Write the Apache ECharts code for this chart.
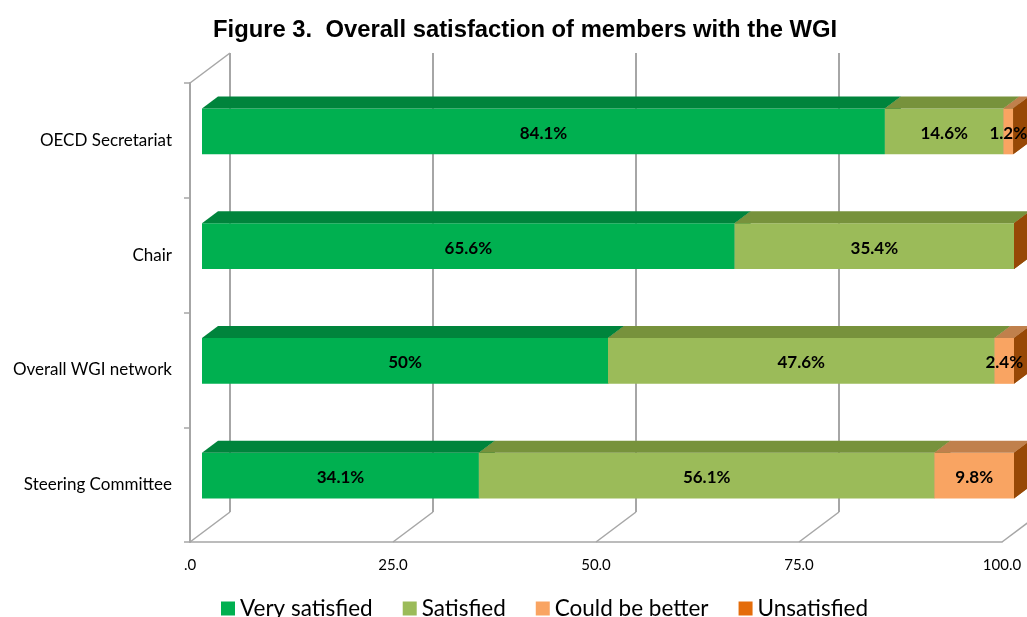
<!DOCTYPE html>
<html>
<head>
<meta charset="utf-8">
<script src="https://cdn.jsdelivr.net/npm/echarts@6/dist/echarts.min.js"></script>
<style>html,body{margin:0;padding:0;background:#fff}#c{width:1027px;height:617px}</style>
</head>
<body>
<div id="c"></div>
<script>
// ---- data ----
const categories = ['OECD Secretariat', 'Chair', 'Overall WGI network', 'Steering Committee'];
const seriesNames = ['Very satisfied', 'Satisfied', 'Could be better', 'Unsatisfied'];
const verySatisfied = [84.1, 65.6, 50, 34.1];
const satisfied = [14.6, 35.4, 47.6, 56.1];
const couldBeBetter = [1.2, 0, 2.4, 9.8];
const unsatisfied = [0, 0, 0, 0];
const xTicks = [0, 25, 50, 75, 100];

// ---- styles ----
const frontColors = ['#00B050', '#9BBB59', '#F9A462', '#E46C0A'];
const topColors = ['#00843C', '#77923C', '#C0804C', '#B0560A'];
const sideColors = ['#007A36', '#6E8A36', '#B06A30', '#974806'];
const DX = 40, DY = -30;
const gridCol = '#A6A6A6';
const AXIS_MAX = 100;

const valueSets = [verySatisfied, satisfied, couldBeBetter, unsatisfied];
const cum = categories.map(() => 0);
const seriesData = valueSets.map(vals => vals.map((v, i) => {
  const s = cum[i]; cum[i] += v;
  return [s, s + v, i, v];
}));

function renderBar(si) {
  return function (params, api) {
    const s = Math.min(api.value(0), AXIS_MAX), e = Math.min(api.value(1), AXIS_MAX);
    const c = api.value(2), v = api.value(3);
    const p0 = api.coord([s, c]);
    const p1 = api.coord([e, c]);
    const bandH = api.size([0, 1])[1];
    const h = bandH * 0.4;
    const fx = 0.3 * DX, fy = 0.3 * DY, dx = 0.4 * DX, dy = 0.4 * DY;
    const x0 = p0[0] + fx, x1 = p1[0] + fx;
    const yT = p0[1] + fy - h / 2, yB = yT + h;
    const children = [];
    if (x1 - x0 > 0.01) {
      children.push({ type: 'rect', shape: { x: x0, y: yT, width: x1 - x0, height: h }, style: { fill: frontColors[si] } });
      children.push({ type: 'polygon', shape: { points: [[x0, yT], [x0 + dx, yT + dy], [x1 + dx, yT + dy], [x1, yT]] }, style: { fill: topColors[si] } });
    }
    children.push({ type: 'polygon', shape: { points: [[x1, yT], [x1 + dx, yT + dy], [x1 + dx, yB + dy], [x1, yB]] }, style: { fill: sideColors[si] } });
    if (v > 0) {
      children.push({
        type: 'text', z2: 100,
        style: { x: (x0 + x1) / 2, y: (yT + yB) / 2 + 2, text: v + '%', textAlign: 'center', textVerticalAlign: 'middle',
          font: 'bold 17px Lato', fill: '#000' }
      });
    }
    return { type: 'group', children };
  };
}

function renderFrame(params, api) {
  const cs = params.coordSys;
  const top = cs.y, bottom = cs.y + cs.height, left = cs.x;
  const children = [];
  xTicks.forEach(t => {
    const x = api.coord([t, 0])[0];
    children.push({ type: 'line', shape: { x1: x + DX, y1: top + DY, x2: x + DX, y2: bottom + DY }, style: { stroke: gridCol, lineWidth: 2 } });
    children.push({ type: 'line', shape: { x1: x, y1: bottom, x2: x + DX, y2: bottom + DY }, style: { stroke: gridCol, lineWidth: 1.5 } });
  });
  children.push({ type: 'line', shape: { x1: left, y1: top, x2: left + DX, y2: top + DY }, style: { stroke: gridCol, lineWidth: 1.5 } });
  return { type: 'group', children };
}

const chart = echarts.init(document.getElementById('c'), null, { renderer: 'canvas' });
const series = [{
  type: 'custom', name: '__frame', z: 1, clip: false, silent: true,
  renderItem: renderFrame, data: [[0, 0]], encode: { x: 0, y: 1 }
}];
seriesNames.forEach((n, si) => {
  series.push({
    type: 'custom', name: n, z: 2, clip: false,
    itemStyle: { color: frontColors[si] },
    renderItem: renderBar(si),
    encode: { x: [0, 1], y: 2 },
    data: seriesData[si]
  });
});

chart.setOption({
  animation: false,
  title: {
    text: 'Figure 3.  Overall satisfaction of members with the WGI',
    left: 208, top: 13,
    textStyle: { fontFamily: 'Liberation Sans', fontWeight: 'bold', fontSize: 23.8, color: '#000' }
  },
  legend: {
    data: seriesNames, top: 592, left: 216, itemWidth: 14, itemHeight: 14, itemGap: 30,
    icon: 'rect',
    textStyle: { fontFamily: 'Lato', fontSize: 22.5, color: '#000' }
  },
  grid: { left: 190, right: 25, top: 83, bottom: 75 },
  xAxis: {
    type: 'value', min: 0, max: AXIS_MAX, interval: 25,
    axisLine: { show: true, lineStyle: { color: gridCol, width: 1.5 } },
    axisTick: { show: false },
    splitLine: { show: false },
    axisLabel: { margin: 16, fontFamily: 'Lato', fontSize: 15, color: '#000',
      formatter: v => v === 0 ? '.0' : v.toFixed(1) }
  },
  yAxis: {
    type: 'category', data: categories, inverse: true,
    axisLine: { show: true, lineStyle: { color: gridCol, width: 2 } },
    axisTick: { show: true, length: 6, lineStyle: { color: gridCol, width: 1.5 } },
    axisLabel: { margin: 18, fontFamily: 'Lato', fontSize: 17, color: '#000', padding: [4, 0, 0, 0] }
  },
  series
});
</script>
</body>
</html>
